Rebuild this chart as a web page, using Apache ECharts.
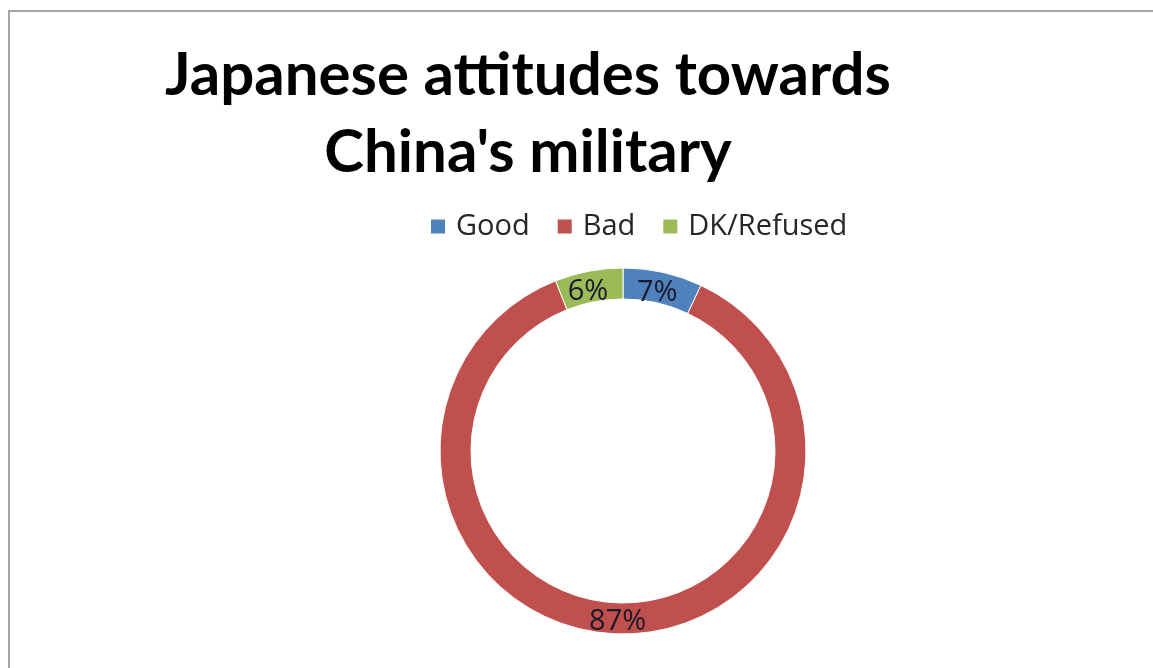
<!DOCTYPE html>
<html>
<head>
<meta charset="utf-8">
<script src="https://cdn.jsdelivr.net/npm/echarts@6/dist/echarts.min.js"></script>
<style>
  html, body { margin: 0; padding: 0; background: #ffffff; }
  #chart { width: 1153px; height: 668px; }
</style>
</head>
<body>
<div id="chart"></div>
<script>
const categories = ["Good", "Bad", "DK/Refused"];
const shares = [7, 87, 6];
const colors = ["#4f81bd", "#c0504d", "#9bbb59"];

const chart = echarts.init(document.getElementById("chart"), null, { renderer: "canvas" });

chart.setOption({
  animation: false,
  graphic: [
    {
      type: "rect",
      shape: { x: 9, y: 11, width: 1300, height: 800 },
      style: { fill: "none", stroke: "#a6a6a6", lineWidth: 2 },
      silent: true,
    },
  ],
  title: {
    text: "Japanese attitudes towards\nChina's military",
    left: 523,
    top: 32,
    textAlign: "center",
    textStyle: {
      fontFamily: "Lato",
      fontWeight: "bold",
      fontSize: 60,
      lineHeight: 77,
      color: "#000000",
    },
  },
  legend: {
    data: categories,
    left: 424,
    top: 207,
    icon: "rect",
    itemWidth: 16,
    itemHeight: 16,
    itemGap: 26,
    selectedMode: false,
    textStyle: {
      fontFamily: "Open Sans",
      fontSize: 29,
      color: "#262626",
      padding: [0, 0, 0, 5],
    },
  },
  series: [
    {
      type: "pie",
      center: [623, 451],
      radius: [152, 183],
      startAngle: 90,
      clockwise: true,
      silent: true,
      itemStyle: { borderColor: "#ffffff", borderWidth: 1 },
      label: {
        show: true,
        position: "inside",
        formatter: "{c}%",
        fontFamily: "Open Sans",
        fontSize: 29,
        color: "#1a1a2a",
      },
      labelLine: { show: false },
      data: categories.map((name, i) => ({
        name,
        value: shares[i],
        itemStyle: { color: colors[i] },
        label: name === "Bad" ? {} : { offset: [-3, 8] },
      })),
    },
  ],
});
</script>
</body>
</html>
